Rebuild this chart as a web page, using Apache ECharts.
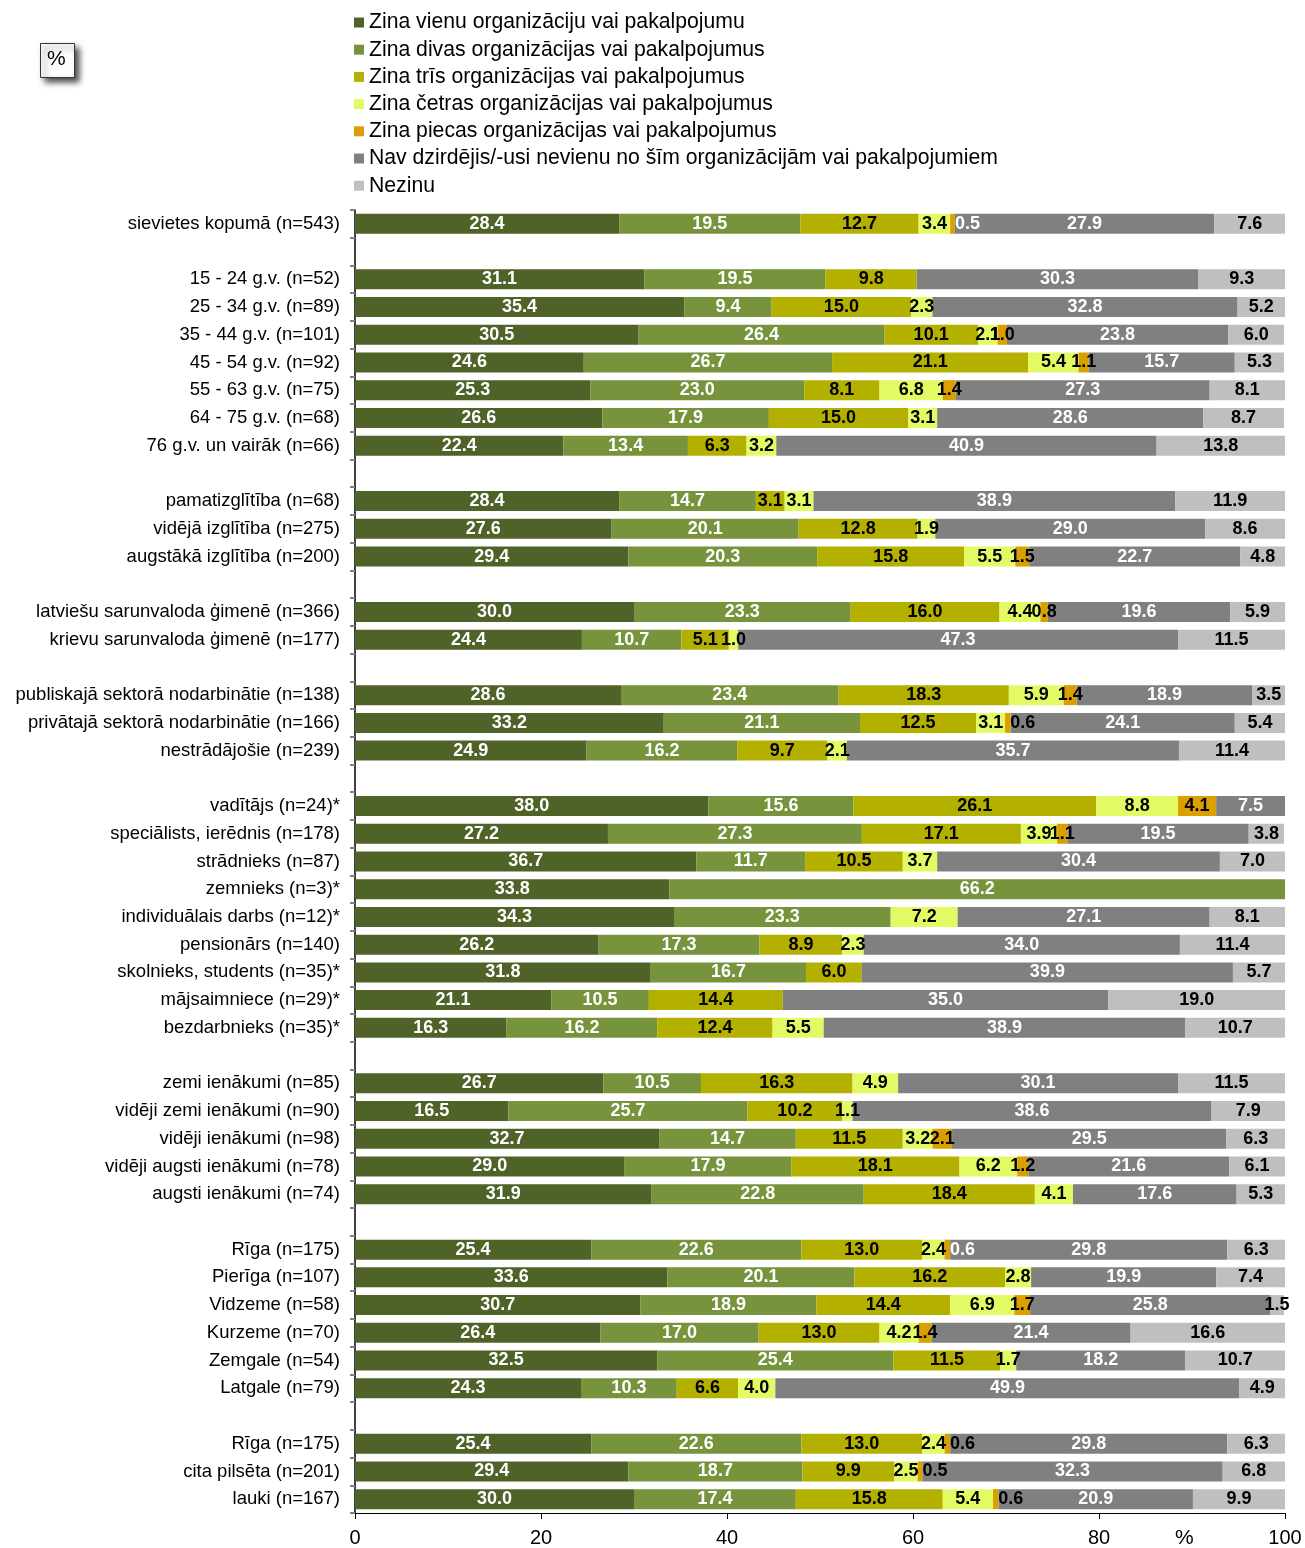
<!DOCTYPE html>
<html>
<head>
<meta charset="utf-8">
<script src="https://cdn.jsdelivr.net/npm/echarts@6/dist/echarts.min.js"></script>
<style>html,body{margin:0;padding:0;background:#fff}#c{width:1305px;height:1548px}</style>
</head>
<body>
<div id="c"></div>
<script>
var n = null;
var categories = ['sievietes kopumā (n=543)','','15 - 24 g.v. (n=52)','25 - 34 g.v. (n=89)','35 - 44 g.v. (n=101)','45 - 54 g.v. (n=92)','55 - 63 g.v. (n=75)','64 - 75 g.v. (n=68)','76 g.v. un vairāk (n=66)','','pamatizglītība (n=68)','vidējā izglītība (n=275)','augstākā izglītība (n=200)','','latviešu sarunvaloda ģimenē (n=366)','krievu sarunvaloda ģimenē (n=177)','','publiskajā sektorā nodarbinātie (n=138)','privātajā sektorā nodarbinātie (n=166)','nestrādājošie (n=239)','','vadītājs (n=24)*','speciālists, ierēdnis (n=178)','strādnieks (n=87)','zemnieks (n=3)*','individuālais darbs (n=12)*','pensionārs (n=140)','skolnieks, students (n=35)*','mājsaimniece (n=29)*','bezdarbnieks (n=35)*','','zemi ienākumi (n=85)','vidēji zemi ienākumi (n=90)','vidēji ienākumi (n=98)','vidēji augsti ienākumi (n=78)','augsti ienākumi (n=74)','','Rīga (n=175)','Pierīga (n=107)','Vidzeme (n=58)','Kurzeme (n=70)','Zemgale (n=54)','Latgale (n=79)','','Rīga (n=175)','cita pilsēta (n=201)','lauki (n=167)'];

var seriesNames = ['Zina vienu organizāciju vai pakalpojumu','Zina divas organizācijas vai pakalpojumus','Zina trīs organizācijas vai pakalpojumus','Zina četras organizācijas vai pakalpojumus','Zina piecas organizācijas vai pakalpojumus','Nav dzirdējis/-usi nevienu no šīm organizācijām vai pakalpojumiem','Nezinu'];

var s1 = [28.4,n,31.1,35.4,30.5,24.6,25.3,26.6,22.4,n,28.4,27.6,29.4,n,30.0,24.4,n,28.6,33.2,24.9,n,38.0,27.2,36.7,33.8,34.3,26.2,31.8,21.1,16.3,n,26.7,16.5,32.7,29.0,31.9,n,25.4,33.6,30.7,26.4,32.5,24.3,n,25.4,29.4,30.0];
var s2 = [19.5,n,19.5,9.4,26.4,26.7,23.0,17.9,13.4,n,14.7,20.1,20.3,n,23.3,10.7,n,23.4,21.1,16.2,n,15.6,27.3,11.7,66.2,23.3,17.3,16.7,10.5,16.2,n,10.5,25.7,14.7,17.9,22.8,n,22.6,20.1,18.9,17.0,25.4,10.3,n,22.6,18.7,17.4];
var s3 = [12.7,n,9.8,15.0,10.1,21.1,8.1,15.0,6.3,n,3.1,12.8,15.8,n,16.0,5.1,n,18.3,12.5,9.7,n,26.1,17.1,10.5,n,n,8.9,6.0,14.4,12.4,n,16.3,10.2,11.5,18.1,18.4,n,13.0,16.2,14.4,13.0,11.5,6.6,n,13.0,9.9,15.8];
var s4 = [3.4,n,n,2.3,2.1,5.4,6.8,3.1,3.2,n,3.1,1.9,5.5,n,4.4,1.0,n,5.9,3.1,2.1,n,8.8,3.9,3.7,n,7.2,2.3,n,n,5.5,n,4.9,1.1,3.2,6.2,4.1,n,2.4,2.8,6.9,4.2,1.7,4.0,n,2.4,2.5,5.4];
var s5 = [0.5,n,n,n,1.0,1.1,1.4,n,n,n,n,n,1.5,n,0.8,n,n,1.4,0.6,n,n,4.1,1.1,n,n,n,n,n,n,n,n,n,n,2.1,1.2,n,n,0.6,n,1.7,1.4,n,n,n,0.6,0.5,0.6];
var s6 = [27.9,n,30.3,32.8,23.8,15.7,27.3,28.6,40.9,n,38.9,29.0,22.7,n,19.6,47.3,n,18.9,24.1,35.7,n,7.5,19.5,30.4,n,27.1,34.0,39.9,35.0,38.9,n,30.1,38.6,29.5,21.6,17.6,n,29.8,19.9,25.8,21.4,18.2,49.9,n,29.8,32.3,20.9];
var s7 = [7.6,n,9.3,5.2,6.0,5.3,8.1,8.7,13.8,n,11.9,8.6,4.8,n,5.9,11.5,n,3.5,5.4,11.4,n,n,3.8,7.0,n,8.1,11.4,5.7,19.0,10.7,n,11.5,7.9,6.3,6.1,5.3,n,6.3,7.4,1.5,16.6,10.7,4.9,n,6.3,6.8,9.9];

var xTicks = [0, 20, 40, 60, 80, 100];

var allValues = [s1, s2, s3, s4, s5, s6, s7];
var colors = ['#4F6228', '#77933C', '#B3B000', '#E4FA64', '#D9A000', '#808080', '#BFBFBF'];
var labelColors = ['#fff', '#fff', '#000', '#000', '#000', '#fff', '#000'];
// style: orange-segment labels moved right of the segment (and which of them are white)
var shiftedOrangeRows = [0, 18, 37, 44, 45, 46];
var whiteOrangeRows = [0, 37];

var chart = echarts.init(document.getElementById('c'), null, {renderer: 'canvas'});
var FONT = '"Liberation Sans", Arial, sans-serif';

var series = allValues.map(function (arr, si) {
  return {
    name: seriesNames[si],
    type: 'bar',
    stack: 'total',
    barWidth: 20,
    data: arr.map(function (v, i) {
      var item = {value: v == null ? '-' : v};
      if (si === 4 && shiftedOrangeRows.indexOf(i) >= 0) {
        item.label = {offset: [15, 0]};
        if (whiteOrangeRows.indexOf(i) >= 0) item.label.color = '#fff';
      }
      return item;
    }),
    itemStyle: {color: colors[si]},
    label: {
      show: true,
      position: 'inside',
      color: labelColors[si],
      fontFamily: '"Liberation Sans Narrow", "Arial Narrow", sans-serif',
      fontWeight: 'bold',
      fontSize: 18,
      formatter: function (p) {
        var v = p.value;
        if (v == null || v === '-' || isNaN(v)) return '';
        return Number(v).toFixed(1);
      }
    },
    emphasis: {disabled: true},
    animation: false
  };
});

chart.setOption({
  animation: false,
  textStyle: {fontFamily: FONT},
  legend: {
    orient: 'vertical',
    left: 349,
    top: 7,
    itemWidth: 10,
    itemHeight: 10,
    itemGap: 6.2,
    icon: 'rect',
    data: seriesNames,
    textStyle: {fontSize: 21.2, color: '#000', fontFamily: FONT, lineHeight: 21},
    selectedMode: false
  },
  grid: {left: 355, right: 20, top: 210, bottom: 31, containLabel: false},
  xAxis: {
    type: 'value',
    min: xTicks[0],
    max: xTicks[xTicks.length - 1],
    interval: 20,
    axisLine: {show: true, lineStyle: {color: '#000', width: 1}},
    axisTick: {show: true, length: 6, lineStyle: {color: '#000'}},
    splitLine: {show: false},
    axisLabel: {fontSize: 20, color: '#000', margin: 15, fontFamily: FONT}
  },
  yAxis: {
    type: 'category',
    inverse: true,
    data: categories,
    axisLine: {show: true, lineStyle: {color: '#000', width: 1.5}},
    axisTick: {show: true, length: 5, lineStyle: {color: '#808080', width: 2}},
    axisLabel: {fontSize: 18.5, color: '#000', margin: 15, fontFamily: FONT, interval: 0}
  },
  graphic: [
    {
      type: 'rect',
      left: 40, top: 43,
      shape: {width: 34, height: 34},
      style: {fill: '#fff', stroke: '#333', lineWidth: 1, shadowBlur: 6, shadowOffsetX: 4, shadowOffsetY: 4, shadowColor: 'rgba(0,0,0,0.7)'}
    },
    {
      type: 'text',
      left: 47, top: 49,
      style: {text: '%', fontSize: 21, fill: '#000', fontFamily: FONT}
    },
    {
      type: 'text',
      left: 1175, top: 1528,
      style: {text: '%', fontSize: 21, fill: '#000', fontFamily: FONT}
    }
  ],
  series: series
});
</script>
</body>
</html>
